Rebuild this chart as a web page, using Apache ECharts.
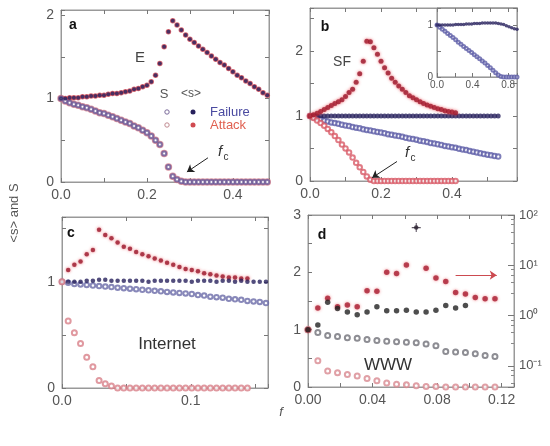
<!DOCTYPE html>
<html>
<head>
<meta charset="utf-8">
<script src="https://cdn.jsdelivr.net/npm/echarts@6/dist/echarts.min.js"></script>
<style>
html,body{margin:0;padding:0;background:#fff;}
#main{width:550px;height:446px;}
</style>
</head>
<body>
<div id="main"></div>
<script>
// a: exponential network, failure and attack lie on top of each other
const fA = [0,0.01,0.02,0.03,0.04,0.05,0.06,0.07,0.08,0.09,0.1,0.11,0.12,0.13,0.14,0.15,0.16,0.17,0.18,0.19,0.2,0.21,0.22,0.23,0.24,0.25,0.26,0.27,0.28,0.29,0.3,0.31,0.32,0.33,0.34,0.35,0.36,0.37,0.38,0.39,0.4,0.41,0.42,0.43,0.44,0.45,0.46,0.47,0.48];
const expAvg = [1.00,1.00,1.01,1.01,1.01,1.02,1.02,1.03,1.03,1.04,1.04,1.05,1.06,1.06,1.07,1.08,1.09,1.11,1.12,1.14,1.16,1.20,1.28,1.42,1.62,1.80,1.93,1.88,1.82,1.76,1.71,1.67,1.63,1.59,1.55,1.51,1.47,1.43,1.40,1.36,1.32,1.28,1.25,1.21,1.18,1.14,1.11,1.07,1.04];
const expS = [1.00,0.97,0.95,0.93,0.92,0.90,0.89,0.87,0.85,0.83,0.82,0.80,0.78,0.76,0.74,0.72,0.70,0.67,0.65,0.62,0.59,0.55,0.50,0.45,0.34,0.18,0.07,0.03,0.01,0,0,0,0,0,0,0,0,0,0,0,0,0,0,0,0,0,0,0,0];

// b: scale-free network
const fB = [0,0.01,0.02,0.03,0.04,0.05,0.06,0.07,0.08,0.09,0.1,0.11,0.12,0.13,0.14,0.15,0.16,0.17,0.18,0.19,0.2,0.21,0.22,0.23,0.24,0.25,0.26,0.27,0.28,0.29,0.3,0.31,0.32,0.33,0.34,0.35,0.36,0.37,0.38,0.39,0.4,0.41,0.42,0.43,0.44,0.45,0.46,0.47,0.48,0.49,0.5,0.51,0.52,0.53];
const sfFailAvg = [1.00,1.00,1.00,1.00,1.00,1.00,1.00,1.00,1.00,1.00,1.00,1.00,1.00,1.00,1.00,1.00,1.00,1.00,1.00,1.00,1.00,1.00,1.00,1.00,1.00,1.00,1.00,1.00,1.00,1.00,1.00,1.00,1.00,1.00,1.00,1.00,1.00,1.00,1.00,1.00,1.00,1.00,1.00,1.00,1.00,1.00,1.00,1.00,1.00,1.00,1.00,1.00,1.00,1.00];
const sfFailS = [1.00,0.98,0.965,0.95,0.93,0.915,0.90,0.89,0.88,0.865,0.855,0.845,0.83,0.82,0.81,0.795,0.785,0.775,0.765,0.755,0.745,0.735,0.72,0.71,0.70,0.69,0.68,0.665,0.655,0.645,0.635,0.62,0.61,0.60,0.585,0.575,0.565,0.555,0.54,0.53,0.52,0.51,0.495,0.485,0.475,0.46,0.45,0.44,0.425,0.415,0.405,0.395,0.385,0.375];
const sfAttAvg = [1.00,1.02,1.04,1.07,1.10,1.13,1.16,1.19,1.22,1.25,1.30,1.36,1.41,1.52,1.65,1.84,2.15,2.14,2.05,1.95,1.84,1.74,1.66,1.58,1.52,1.46,1.41,1.36,1.31,1.28,1.25,1.22,1.19,1.17,1.15,1.13,1.11,1.10,1.08,1.07,1.06,1.05];
const sfAttS = [1.00,0.97,0.93,0.89,0.85,0.80,0.75,0.69,0.63,0.56,0.50,0.44,0.36,0.28,0.21,0.14,0.07,0.02,0,0,0,0,0,0,0,0,0,0,0,0,0,0,0,0,0,0,0,0,0,0,0,0];

// b inset: failure over the whole range
const fIn = [0,0.03,0.06,0.09,0.12,0.15,0.18,0.21,0.24,0.27,0.3,0.33,0.36,0.39,0.42,0.45,0.48,0.51,0.54,0.57,0.6,0.63,0.66,0.69,0.72,0.75,0.78,0.81,0.84,0.87,0.9];
const inAvg = [1.00,1.00,1.00,1.00,1.00,1.00,1.00,1.01,1.01,1.01,1.01,1.02,1.02,1.02,1.03,1.03,1.03,1.04,1.04,1.04,1.04,1.04,1.04,1.03,1.02,1.01,0.99,0.97,0.95,0.93,0.92];
const inS = [1.00,0.96,0.92,0.88,0.84,0.80,0.76,0.72,0.67,0.63,0.59,0.55,0.51,0.47,0.43,0.39,0.35,0.31,0.27,0.22,0.18,0.13,0.08,0.04,0.01,0,0,0,0,0,0];

// c: Internet
const fC = [0,0.0048,0.0096,0.0144,0.0192,0.024,0.0288,0.0336,0.0384,0.0432,0.048,0.0528,0.0576,0.0624,0.0672,0.072,0.0768,0.0816,0.0864,0.0912,0.096,0.1008,0.1056,0.1104,0.1152,0.12,0.1248,0.1296,0.1344,0.1392,0.144,0.1488,0.1536,0.1584];
const netFailAvg = [1.00,1.00,1.00,1.00,1.01,1.01,1.02,1.02,1.01,1.01,1.01,1.01,1.01,1.01,1.00,1.01,1.01,1.01,1.01,1.01,1.01,1.00,1.01,1.01,1.01,1.00,1.01,1.01,1.00,1.01,1.00,1.00,1.00,1.00];
const netFailS = [1.00,0.99,0.98,0.975,0.97,0.965,0.96,0.955,0.95,0.945,0.94,0.935,0.93,0.925,0.92,0.915,0.91,0.905,0.90,0.895,0.89,0.885,0.875,0.87,0.86,0.855,0.85,0.84,0.835,0.83,0.82,0.815,0.81,0.80];
const netAttAvg = [1.00,1.11,1.16,1.19,1.26,1.30,1.49,1.44,1.41,1.37,1.33,1.31,1.28,1.26,1.24,1.22,1.20,1.18,1.16,1.14,1.12,1.11,1.10,1.08,1.07,1.06,1.05,1.04,1.04,1.03,1.03];
const netAttS = [1.00,0.63,0.52,0.42,0.29,0.20,0.07,0.04,0.02,0,0,0,0,0,0,0,0,0,0,0,0,0,0,0,0,0,0,0,0,0,0];

// d: WWW
const fD = [0,0.0061,0.0122,0.0183,0.0244,0.0305,0.0366,0.0427,0.0488,0.0549,0.061,0.0671,0.0732,0.0793,0.0854,0.0915,0.0976,0.1037,0.1098,0.1159];
const wwwFailAvg = [1.00,1.08,1.48,1.37,1.31,1.26,1.31,1.40,1.33,1.33,1.34,1.31,1.31,1.34,1.42,1.38,1.42];
const wwwFailS = [1.00,0.95,0.90,0.88,0.86,0.85,0.83,0.81,0.80,0.79,0.78,0.77,0.75,0.72,0.62,0.61,0.60,0.58,0.55,0.53];
const wwwAttAvg = [1.00,1.38,1.55,1.40,1.43,1.40,1.68,1.67,2.00,1.98,2.13,null,2.07,1.90,1.84,1.65,1.62,1.56,1.54,1.54];
const wwwAttS = [1.00,0.46,0.28,0.25,0.22,0.19,0.15,0.11,0.07,0.05,0.04,0.02,0.01,0.01,0,0,0,0,0,0];
const wwwStar = [[0.0671, 2.78]];

const NAVY = '#27205c';
const RED = '#c42a3a';
const FONT = 'Liberation Sans';

const grids = [
  {left: 61, top: 10, width: 208, height: 172, show: true, borderColor: '#999'},
  {left: 310, top: 8, width: 207, height: 173, show: true, borderColor: '#999'},
  {left: 62, top: 217, width: 206, height: 171, show: true, borderColor: '#999'},
  {left: 308, top: 215, width: 206, height: 172, show: true, borderColor: '#999'},
  {left: 437, top: 8, width: 80, height: 69, show: true, borderColor: '#888', backgroundColor: '#fff', z: 5}
];

const xAxes = [];
const yAxes = [];

function onStep(v, step, every) {
  const k = Math.round(v / step);
  return Math.abs(v - k * step) < 1e-6 && k % every === 0;
}

function frame(g, x, y, z) {
  const tick = {show: true, inside: true, length: 4, lineStyle: {color: '#777'}};
  const line = {show: true, onZero: false, lineStyle: {color: '#999'}};
  const lab = {fontSize: x.fs || 14, color: '#555', fontFamily: FONT};
  const xi = xAxes.length, yi = yAxes.length;
  xAxes.push({gridIndex: g, type: 'value', min: x.min, max: x.max, interval: x.interval, position: 'bottom', z: z,
    axisLine: line, axisTick: tick, splitLine: {show: false},
    axisLabel: Object.assign({formatter: x.fmt, margin: x.margin || 6}, lab)});
  xAxes.push({gridIndex: g, type: 'value', min: x.min, max: x.max, interval: x.interval, position: 'top', z: z,
    axisLine: line, axisTick: tick, splitLine: {show: false}, axisLabel: {show: false}});
  yAxes.push({gridIndex: g, type: 'value', min: y.min, max: y.max, interval: y.interval, position: 'left', z: z,
    axisLine: line, axisTick: tick, splitLine: {show: false},
    axisLabel: Object.assign({formatter: y.fmt, margin: y.margin || 7}, lab, {fontSize: y.fs || 14})});
  if (y.right) {
    yAxes.push(Object.assign({gridIndex: g, position: 'right', z: z, axisLine: line, splitLine: {show: false}}, y.right));
  } else {
    yAxes.push({gridIndex: g, type: 'value', min: y.min, max: y.max, interval: y.interval, position: 'right', z: z,
      axisLine: line, axisTick: tick, splitLine: {show: false}, axisLabel: {show: false}});
  }
  return {x: xi, y: yi};
}

const intLabel = v => (onStep(v, 1, 1) ? String(Math.round(v)) : '');

const axA = frame(0,
  {min: 0, max: 0.484, interval: 0.1, fmt: v => (onStep(v, 0.1, 2) ? v.toFixed(1) : '')},
  {min: 0, max: 2.06, interval: 0.5, fmt: intLabel});
const axB = frame(1,
  {min: 0, max: 0.583, interval: 0.1, fmt: v => (onStep(v, 0.1, 2) ? v.toFixed(1) : '')},
  {min: 0, max: 2.66, interval: 0.5, fmt: intLabel});
const axC = frame(2,
  {min: 0, max: 0.16, interval: 0.05, fmt: v => (onStep(v, 0.05, 2) ? v.toFixed(1) : '')},
  {min: 0, max: 1.61, interval: 0.5, fmt: intLabel});
const sup = {'2': '10²', '1': '10¹', '0': '10⁰', '-1': '10⁻¹'};
const axD = frame(3,
  {min: 0, max: 0.1277, interval: 0.02, fmt: v => (onStep(v, 0.02, 2) ? v.toFixed(2) : '')},
  {min: 0, max: 3, interval: 0.5, fmt: intLabel,
    right: {type: 'log', logBase: 10, min: 0.038, max: 100,
      axisTick: {show: true, inside: true, length: 6, lineStyle: {color: '#777'}},
      minorTick: {show: true, splitNumber: 5, length: 3, lineStyle: {color: '#888'}},
      axisLabel: {fontSize: 13, color: '#555', fontFamily: FONT, margin: 5, formatter: v => {
        const e = Math.log10(v);
        return Math.abs(e - Math.round(e)) < 0.01 ? (sup[String(Math.round(e))] || '') : '';
      }}}});
const axIn = frame(4,
  {min: 0, max: 0.9, interval: 0.2, fs: 10, margin: 3, fmt: v => (onStep(v, 0.2, 2) ? v.toFixed(1) : '')},
  {min: 0, max: 1.33, interval: 0.5, fs: 10, margin: 4, fmt: intLabel}, 6);

function pts(xs, ys) {
  const out = [];
  ys.forEach((v, i) => { if (v !== null) out.push([xs[i], v]); });
  return out;
}

function dots(ax, xs, ys, opt) {
  return {
    type: 'scatter', xAxisIndex: ax.x, yAxisIndex: ax.y, data: pts(xs, ys), clip: false,
    symbol: opt.open ? 'emptyCircle' : 'circle', symbolSize: opt.size || 5, z: opt.z || 3,
    itemStyle: Object.assign({color: opt.color, borderWidth: opt.open ? 1 : 0}, opt.halo ? {shadowBlur: 3, shadowColor: opt.halo} : {}),
    silent: true
  };
}

function arrow(from, to, color) {
  return {
    silent: true, symbol: ['none', 'arrow'], symbolSize: 7,
    label: {show: false}, lineStyle: {color: color, width: 1, type: 'solid'},
    data: [[{coord: from}, {coord: to}]]
  };
}

const series = [
  // a
  dots(axA, fA, expS, {open: true, color: '#d07a8a', size: 5.5}),
  dots(axA, fA, expS, {open: true, color: '#6a5a98', size: 4, z: 4}),
  dots(axA, fA, expAvg, {color: '#d0404c', size: 5.5}),
  Object.assign(dots(axA, fA, expAvg, {color: NAVY, size: 4, z: 4}),
    {markLine: arrow([0.342, 0.29], [0.293, 0.12], '#222')}),
  // b
  dots(axB, fB, sfFailS, {open: true, color: '#5e5ea8', size: 4.5}),
  dots(axB, fB, sfFailAvg, {color: NAVY, size: 5}),
  dots(axB, fB, sfAttS, {open: true, color: '#d85a66', size: 4.5}),
  Object.assign(dots(axB, fB, sfAttAvg, {color: '#9a1c30', size: 5, halo: 'rgba(235,60,70,0.9)'}),
    {markLine: arrow([0.245, 0.30], [0.175, 0.05], '#222')}),
  // b inset
  dots(axIn, fIn, inS, {open: true, color: '#5e5ea8', size: 3, z: 7}),
  dots(axIn, fIn, inAvg, {color: NAVY, size: 3.5, z: 7}),
  // c
  dots(axC, fC, netFailS, {open: true, color: '#6a6aa8', size: 4.5}),
  dots(axC, fC, netAttAvg, {color: '#9a1c30', size: 4.5, halo: 'rgba(235,60,70,0.9)'}),
  dots(axC, fC, netFailAvg, {color: NAVY, size: 4.5}),
  dots(axC, fC, netAttS, {open: true, color: '#d88088', size: 5}),
  // d
  dots(axD, fD, wwwFailS, {open: true, color: '#707078', size: 5}),
  dots(axD, fD, wwwAttS, {open: true, color: '#d88890', size: 5}),
  Object.assign(dots(axD, fD, wwwAttAvg, {color: '#a82034', size: 5.5, halo: 'rgba(235,70,80,0.8)'}),
    {markLine: arrow([0.0915, 1.95], [0.117, 1.95], '#cc4a50')}),
  dots(axD, fD, wwwFailAvg, {color: '#222', size: 5.5}),
  dots(axD, [wwwStar[0][0]], [wwwStar[0][1]], {color: '#2a2030', size: 4.5, z: 5}),
  Object.assign(dots(axD, [wwwStar[0][0]], [wwwStar[0][1]], {color: '#3a3040', size: 9, z: 4}),
    {symbol: 'path://M4.4,0h1.2v4.4h4.4v1.2h-4.4v4.4h-1.2v-4.4h-4.4v-1.2h4.4z'})
];

function txt(x, y, s, size, color, extra) {
  return {type: 'text', x: x, y: y, z: 20, silent: true,
    style: Object.assign({text: s, fontSize: size, fontFamily: FONT, fill: color, align: 'center', verticalAlign: 'middle'}, extra || {})};
}
function ring(x, y, color) {
  return {type: 'circle', z: 20, silent: true, shape: {cx: x, cy: y, r: 2.2}, style: {fill: '#fff', stroke: color, lineWidth: 1}};
}
function disc(x, y, color) {
  return {type: 'circle', z: 20, silent: true, shape: {cx: x, cy: y, r: 2.5}, style: {fill: color}};
}

const graphic = [
  txt(73, 25, 'a', 14, '#111', {fontWeight: 'bold'}),
  txt(325, 27, 'b', 14, '#111', {fontWeight: 'bold'}),
  txt(71, 233, 'c', 14, '#111', {fontWeight: 'bold'}),
  txt(322, 235, 'd', 14, '#111', {fontWeight: 'bold'}),
  txt(140, 58, 'E', 15, '#444'),
  txt(342, 62, 'SF', 14, '#444'),
  txt(167, 344, 'Internet', 17, '#333'),
  txt(388, 365, 'WWW', 17, '#333'),
  // legend of panel a
  txt(164, 94, 'S', 13, '#555'),
  txt(191, 94, '<s>', 12, '#555'),
  ring(167, 112, '#7a6a9a'), disc(193, 112, NAVY),
  txt(210, 112, 'Failure', 13, '#4a4aa0', {align: 'left'}),
  ring(167, 125, '#c08a90'), disc(193, 125, '#d04a50'),
  txt(210, 125, 'Attack', 13, '#e06050', {align: 'left'}),
  // f_c labels
  txt(220, 152, 'f', 15, '#333', {fontStyle: 'italic'}),
  txt(226, 157, 'c', 10, '#333'),
  txt(407, 153, 'f', 15, '#333', {fontStyle: 'italic'}),
  txt(413, 158, 'c', 10, '#333'),
  // axis titles
  {type: 'text', x: 14, y: 213, rotation: Math.PI / 2, z: 20, silent: true,
    style: {text: '<s> and S', fontSize: 13, fontFamily: FONT, fill: '#555', align: 'center', verticalAlign: 'middle'}},
  txt(281, 412, 'f', 13, '#555', {fontStyle: 'italic'})
];

const chart = echarts.init(document.getElementById('main'), null, {renderer: 'canvas'});
chart.setOption({
  animation: false,
  backgroundColor: '#fff',
  grid: grids,
  xAxis: xAxes,
  yAxis: yAxes,
  series: series,
  graphic: graphic
});
</script>
</body>
</html>
